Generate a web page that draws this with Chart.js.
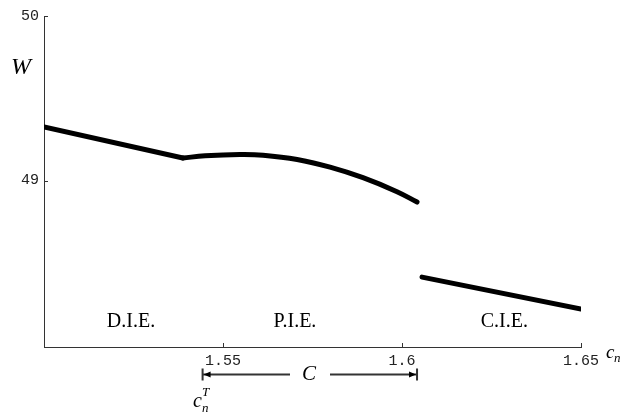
<!DOCTYPE html>
<html>
<head>
<meta charset="utf-8">
<script src="https://cdn.jsdelivr.net/npm/chart.js@4/dist/chart.umd.min.js"></script>
<style>
  body { margin: 0; background: #fff; }
</style>
</head>
<body>
<canvas id="graph" width="626" height="414"></canvas>
<script>
// W against c_n, three regimes
const dieX = [1.5, 1.5388];
const dieW = [49.325, 49.137];
const pieX = [1.5388, 1.545, 1.5547, 1.5612, 1.5707, 1.5799, 1.5891, 1.5986, 1.6042];
const pieW = [49.137, 49.150, 49.158, 49.154, 49.128, 49.081, 49.017, 48.932, 48.869];
const cieX = [1.6056, 1.65];
const cieW = [48.413, 48.219];

const xTicks = [1.55, 1.6, 1.65];
const yTicks = [49, 50];
const regions = ["D.I.E.", "P.I.E.", "C.I.E."];
const regionX = [1.5243, 1.5701, 1.6286];
const bracketFrom = 1.5443; // c_n^T
const bracketTo = 1.6042;

const pts = (xs, ys) => xs.map((x, i) => ({ x: x, y: ys[i] }));

const lineStyle = {
  borderColor: "#000",
  borderWidth: 5,
  borderCapStyle: "round",
  borderJoinStyle: "round",
  pointRadius: 0,
  fill: false,
};

const extras = {
  id: "extras",
  afterDraw(chart) {
    const ctx = chart.ctx;
    const xs = chart.scales.x;
    const ys = chart.scales.y;
    const a = chart.chartArea;
    ctx.save();
    // inward tick marks
    ctx.strokeStyle = "#333";
    ctx.lineWidth = 1;
    ctx.beginPath();
    xTicks.forEach((v) => {
      const px = Math.round(xs.getPixelForValue(v)) + 0.5;
      ctx.moveTo(px, a.bottom);
      ctx.lineTo(px, a.bottom - 4);
    });
    yTicks.forEach((v) => {
      const py = Math.round(ys.getPixelForValue(v)) + 0.5;
      ctx.moveTo(a.left, py);
      ctx.lineTo(a.left + 4, py);
    });
    ctx.stroke();

    ctx.fillStyle = "#000";
    ctx.textAlign = "center";
    ctx.textBaseline = "middle";
    // region names
    ctx.font = "20px 'Liberation Serif'";
    regions.forEach((r, i) => {
      ctx.fillText(r, xs.getPixelForValue(regionX[i]), 322);
    });
    // axis names
    ctx.font = "italic 24px 'Liberation Serif'";
    ctx.fillText("W", 21, 68);
    ctx.textBaseline = "alphabetic";
    ctx.textAlign = "left";
    ctx.font = "italic 19px 'Liberation Serif'";
    ctx.fillText("c", 606, 358);
    ctx.font = "italic 13px 'Liberation Serif'";
    ctx.fillText("n", 614, 362);

    // bracket C
    const x1 = xs.getPixelForValue(bracketFrom);
    const x2 = xs.getPixelForValue(bracketTo);
    const yb = 374.5;
    ctx.lineWidth = 2;
    ctx.beginPath();
    ctx.moveTo(x1, yb - 6); ctx.lineTo(x1, yb + 6);
    ctx.moveTo(x2, yb - 6); ctx.lineTo(x2, yb + 6);
    ctx.moveTo(x1, yb); ctx.lineTo(290, yb);
    ctx.moveTo(330, yb); ctx.lineTo(x2, yb);
    ctx.stroke();
    ctx.beginPath();
    ctx.moveTo(x1 + 1, yb); ctx.lineTo(x1 + 8, yb - 3); ctx.lineTo(x1 + 8, yb + 3);
    ctx.closePath();
    ctx.moveTo(x2 - 1, yb); ctx.lineTo(x2 - 8, yb - 3); ctx.lineTo(x2 - 8, yb + 3);
    ctx.closePath();
    ctx.fill();
    ctx.textAlign = "center";
    ctx.textBaseline = "middle";
    ctx.font = "italic 21px 'Liberation Serif'";
    ctx.fillText("C", 309, yb);

    // c_n^T
    ctx.textAlign = "left";
    ctx.textBaseline = "alphabetic";
    ctx.font = "italic 20px 'Liberation Serif'";
    ctx.fillText("c", 193, 407);
    ctx.font = "italic 13px 'Liberation Serif'";
    ctx.fillText("T", 202, 396);
    ctx.fillText("n", 202, 412);
    ctx.restore();
  },
};

const graph = document.getElementById("graph").getContext("2d");

const myChart = new Chart(graph, {
  type: "line",
  data: {
    datasets: [
      { label: "D.I.E.", data: pts(dieX, dieW), tension: 0, ...lineStyle },
      { label: "P.I.E.", data: pts(pieX, pieW), tension: 0.4, ...lineStyle },
      { label: "C.I.E.", data: pts(cieX, cieW), tension: 0, ...lineStyle },
    ],
  },
  options: {
    responsive: false,
    animation: false,
    events: [],
    layout: {
      padding: { top: 16, right: 45, left: 0, bottom: 0 },
    },
    plugins: {
      legend: { display: false },
      tooltip: { enabled: false },
    },
    scales: {
      x: {
        type: "linear",
        min: 1.5,
        max: 1.65,
        afterBuildTicks: (s) => { s.ticks = xTicks.map((v) => ({ value: v })); },
        afterFit: (s) => { s.height = 67; },
        grid: { display: false, drawTicks: false },
        border: { display: true, color: "#333", width: 1 },
        ticks: {
          color: "#222",
          padding: 5,
          maxRotation: 0,
          font: { family: "'Liberation Mono'", size: 15 },
          callback: (v) => String(v),
        },
      },
      y: {
        type: "linear",
        min: 47.988,
        max: 50,
        afterBuildTicks: (s) => { s.ticks = yTicks.map((v) => ({ value: v })); },
        afterFit: (s) => { s.width = 44; },
        grid: { display: false, drawTicks: false },
        border: { display: true, color: "#333", width: 1 },
        ticks: {
          color: "#222",
          padding: 5,
          font: { family: "'Liberation Mono'", size: 15 },
          callback: (v) => String(v),
        },
      },
    },
  },
  plugins: [extras],
});
</script>
</body>
</html>
